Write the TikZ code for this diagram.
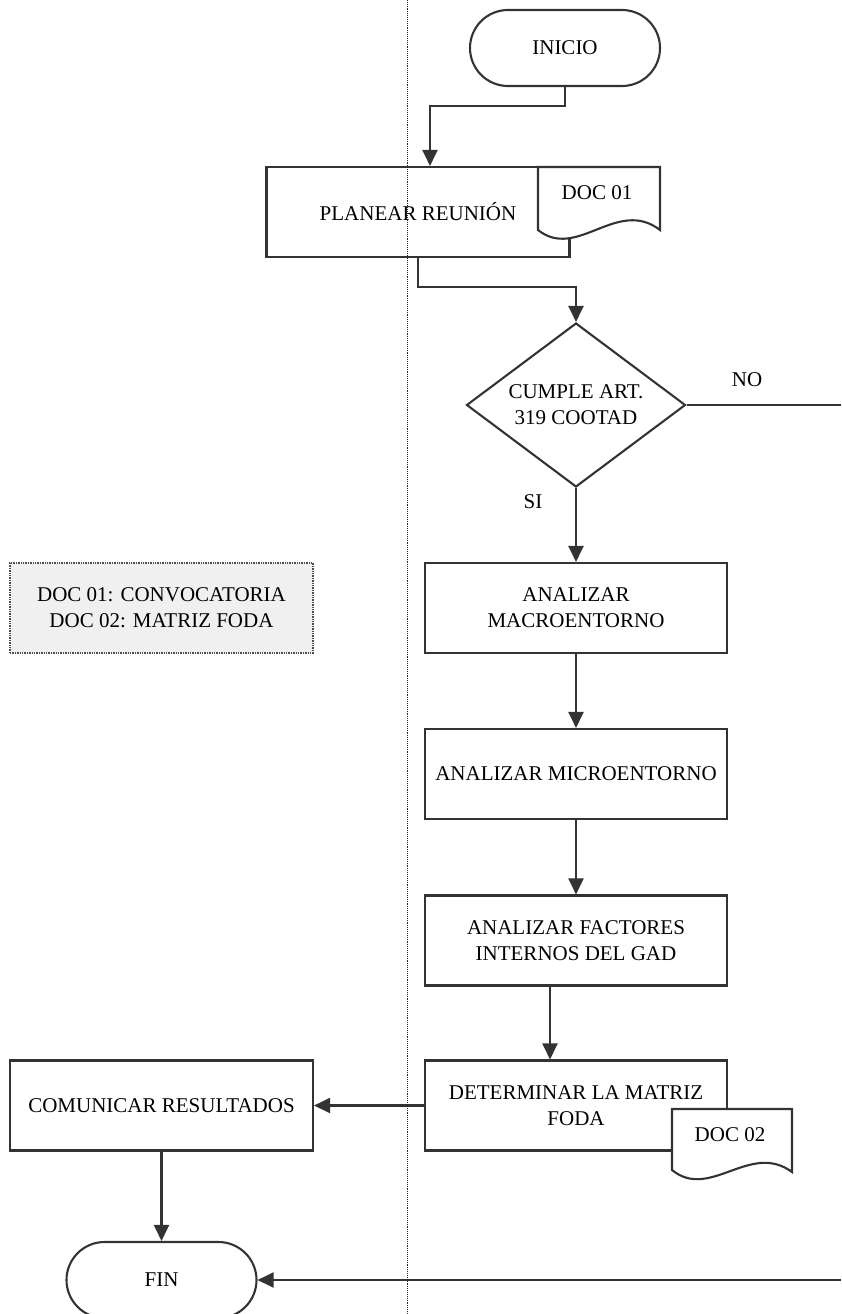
\documentclass[tikz,border=0pt]{standalone}
\usepackage{fontspec}
\setmainfont{Liberation Serif}
\usetikzlibrary{arrows.meta,shapes.geometric,shapes.misc}
\newcommand\flowfont{\fontsize{21pt}{26pt}\selectfont}
\begin{document}
\begin{tikzpicture}[x=1pt,y=-1pt,
  line/.style={draw=black!80, line width=2.1pt},
  arr/.style={line, -{Triangle[width=15pt,length=16pt]}},
  txt/.style={font=\flowfont, align=center, inner sep=0pt, text=black},
  box/.style={txt, line, fill=white, rectangle, minimum width=302pt, minimum height=90pt},
  terminal/.style={txt, line, fill=white, rounded rectangle, minimum width=190pt, minimum height=76pt},
  decision/.style={txt, line, fill=white, diamond, shape aspect=1.335, minimum width=219pt, minimum height=164pt},
  notebox/.style={txt, draw=black!70, densely dotted, line width=1.4pt, fill=black!6, rectangle, minimum width=303pt, minimum height=90pt},
  docshape/.style={line, fill=white}
]
\useasboundingbox (0,0) rectangle (841,1314);
\clip (0,0) rectangle (841,1314);

% process steps
\node[terminal] (inicio) at (565,48) {INICIO};
\node[box, minimum width=303pt] (planear) at (418,212) {PLANEAR REUNIÓN};

% document attached to the planning step
\begin{scope}[shift={(597,193)}]
  \path[docshape] (-59,-26) -- (63,-26) -- (63,37)
    .. controls (20,4) and (-20,68) .. (-59,37) -- cycle;
  \node[txt] (doc1) at (0,0) {DOC 01};
\end{scope}

\node[decision] (cumple) at (576,405) {CUMPLE ART.\\319 COOTAD};
\node[txt] (nolabel) at (747,380) {NO};
\node[txt] (silabel) at (533,502) {SI};

\node[box] (macro) at (576,608) {ANALIZAR\\MACROENTORNO};
\node[box] (micro) at (576,774) {ANALIZAR MICROENTORNO};
\node[box] (factores) at (576,940.5) {ANALIZAR FACTORES\\INTERNOS DEL GAD};
\node[box] (determinar) at (576,1105.5) {DETERMINAR LA MATRIZ\\FODA};

% document attached to the FODA step
\begin{scope}[shift={(730,1135)}]
  \path[docshape] (-58,-26) -- (62,-26) -- (62,37)
    .. controls (20,6) and (-20,66) .. (-58,35) -- cycle;
  \node[txt] (doc2) at (0,0) {DOC 02};
\end{scope}

\node[box, minimum width=303pt] (comunicar) at (161.5,1105.5) {COMUNICAR RESULTADOS};
\node[terminal] (fin) at (161.5,1280) {FIN};

% legend
\node[notebox] (leyenda) at (161.5,608) {DOC 01: CONVOCATORIA\\DOC 02: MATRIZ FODA};

% free ends of the NO branch
\coordinate (noout) at (841,405);
\coordinate (noin) at (841,1280);

% connectors
\draw[arr] (inicio.south) |- (430,106) -- ([xshift=12pt]planear.north);
\draw[arr] (planear.south) -- ++(0,29) -| (cumple.north);
\draw[line] (cumple.east) -- (noout);
\draw[arr] (cumple.south) -- (macro.north);
\draw[arr] (macro.south) -- (micro.north);
\draw[arr] (micro.south) -- (factores.north);
\draw[arr] ([xshift=-26pt]factores.south) -- ([xshift=-26pt]determinar.north);
\draw[arr] (determinar.west) -- (comunicar.east);
\draw[arr] (comunicar.south) -- (fin.north);
\draw[arr] (noin) -- (fin.east);

% lane divider
\coordinate (lanetop) at (407,0);
\coordinate (lanebottom) at (407,1314);
\draw[black!85, densely dotted, line width=0.9pt] (lanetop) -- (lanebottom);
\end{tikzpicture}
\end{document}
